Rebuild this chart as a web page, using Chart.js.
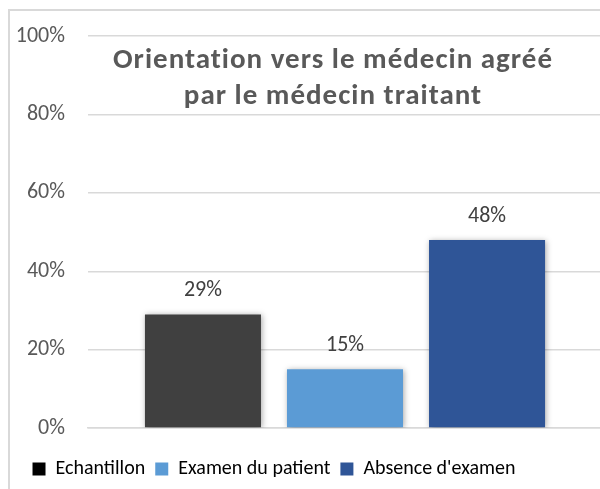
<!DOCTYPE html>
<html>
<head>
<meta charset="utf-8">
<script src="https://cdn.jsdelivr.net/npm/chart.js@4.4.1/dist/chart.umd.min.js"></script>
<style>
  html, body { margin: 0; padding: 0; width: 600px; height: 489px; overflow: hidden; background: #fff; }
  #frame { position: absolute; left: 8px; top: 9px; width: 700px; height: 600px; border: 2px solid #d9d9d9; box-sizing: border-box; }
  #wrap { position: absolute; left: -54px; top: 0; width: 656px; height: 489px; }
</style>
</head>
<body>
<div id="frame"></div>
<div id="wrap"><canvas id="chart" width="656" height="489"></canvas></div>
<script>
const categories = ["Echantillon", "Examen du patient", "Absence d'examen"];
const values = [29, 15, 48];
const barColors = ["#404040", "#5b9bd5", "#2f5597"];
const legendColors = ["#000000", "#5b9bd5", "#2f5597"];
const titleLines = ["Orientation vers le médecin agréé", "par le médecin traitant"];

const FONT = "Calibri, Carlito, Lato, sans-serif";

// Excel-like soft shadow behind the bars
const barShadow = {
  id: "barShadow",
  beforeDatasetsDraw(chart) {
    const ctx = chart.ctx;
    ctx.save();
    ctx.shadowColor = "rgba(0,0,0,0.35)";
    ctx.shadowBlur = 6;
    ctx.shadowOffsetX = 1;
    ctx.shadowOffsetY = 1;
  },
  afterDatasetsDraw(chart) { chart.ctx.restore(); }
};

const valueLabels = {
  id: "valueLabels",
  afterDraw(chart) {
    const ctx = chart.ctx;
    ctx.save();
    ctx.font = "22px " + FONT;
    ctx.fillStyle = "#404040";
    ctx.textAlign = "center";
    ctx.textBaseline = "alphabetic";
    chart.data.datasets.forEach((ds, i) => {
      const bar = chart.getDatasetMeta(i).data[0];
      ctx.fillText(ds.data[0] + "%", bar.x, bar.y - 18);
    });
    ctx.restore();
  }
};

// title sits inside the plot area
const innerTitle = {
  id: "innerTitle",
  afterDraw(chart) {
    const ctx = chart.ctx;
    ctx.save();
    ctx.font = "bold 29px " + FONT;
    ctx.letterSpacing = "1px";
    ctx.fillStyle = "#595959";
    ctx.textAlign = "center";
    ctx.fillText(titleLines[0], 387, 61);
    ctx.fillText(titleLines[1], 387, 97);
    ctx.restore();
  }
};

new Chart(document.getElementById("chart"), {
  type: "bar",
  data: {
    labels: [""],
    datasets: categories.map((name, i) => ({
      label: name,
      data: [values[i]],
      backgroundColor: barColors[i],
      borderWidth: 0
    }))
  },
  options: {
    responsive: false,
    animation: false,
    categoryPercentage: 0.829,
    barPercentage: 0.817,
    layout: { padding: { top: 32, left: 0, right: 0, bottom: 0 } },
    plugins: {
      title: { display: false },
      tooltip: { enabled: false },
      legend: {
        position: "bottom",
        labels: {
          color: "#595959",
          font: { family: FONT, size: 20 },
          boxWidth: 13, boxHeight: 13, padding: 10,
          generateLabels(chart) {
            return chart.data.datasets.map((ds, i) => ({
              text: ds.label, fillStyle: legendColors[i], strokeStyle: legendColors[i],
              lineWidth: 0, datasetIndex: i, hidden: false
            }));
          }
        }
      }
    },
    scales: {
      x: {
        grid: { display: false },
        ticks: { display: false },
        border: { display: true, color: "#d9d9d9", width: 1.5 },
        afterFit(scale) { scale.height = 21; }
      },
      y: {
        min: 0, max: 100,
        ticks: { stepSize: 20, padding: 23, color: "#595959", font: { family: FONT, size: 22 }, callback: v => v + "%" },
        grid: { color: "#d9d9d9", lineWidth: 1.5, drawTicks: false },
        border: { display: false },
        afterFit(scale) { scale.width = 142; }
      }
    }
  },
  plugins: [barShadow, valueLabels, innerTitle]
});
</script>
</body>
</html>
